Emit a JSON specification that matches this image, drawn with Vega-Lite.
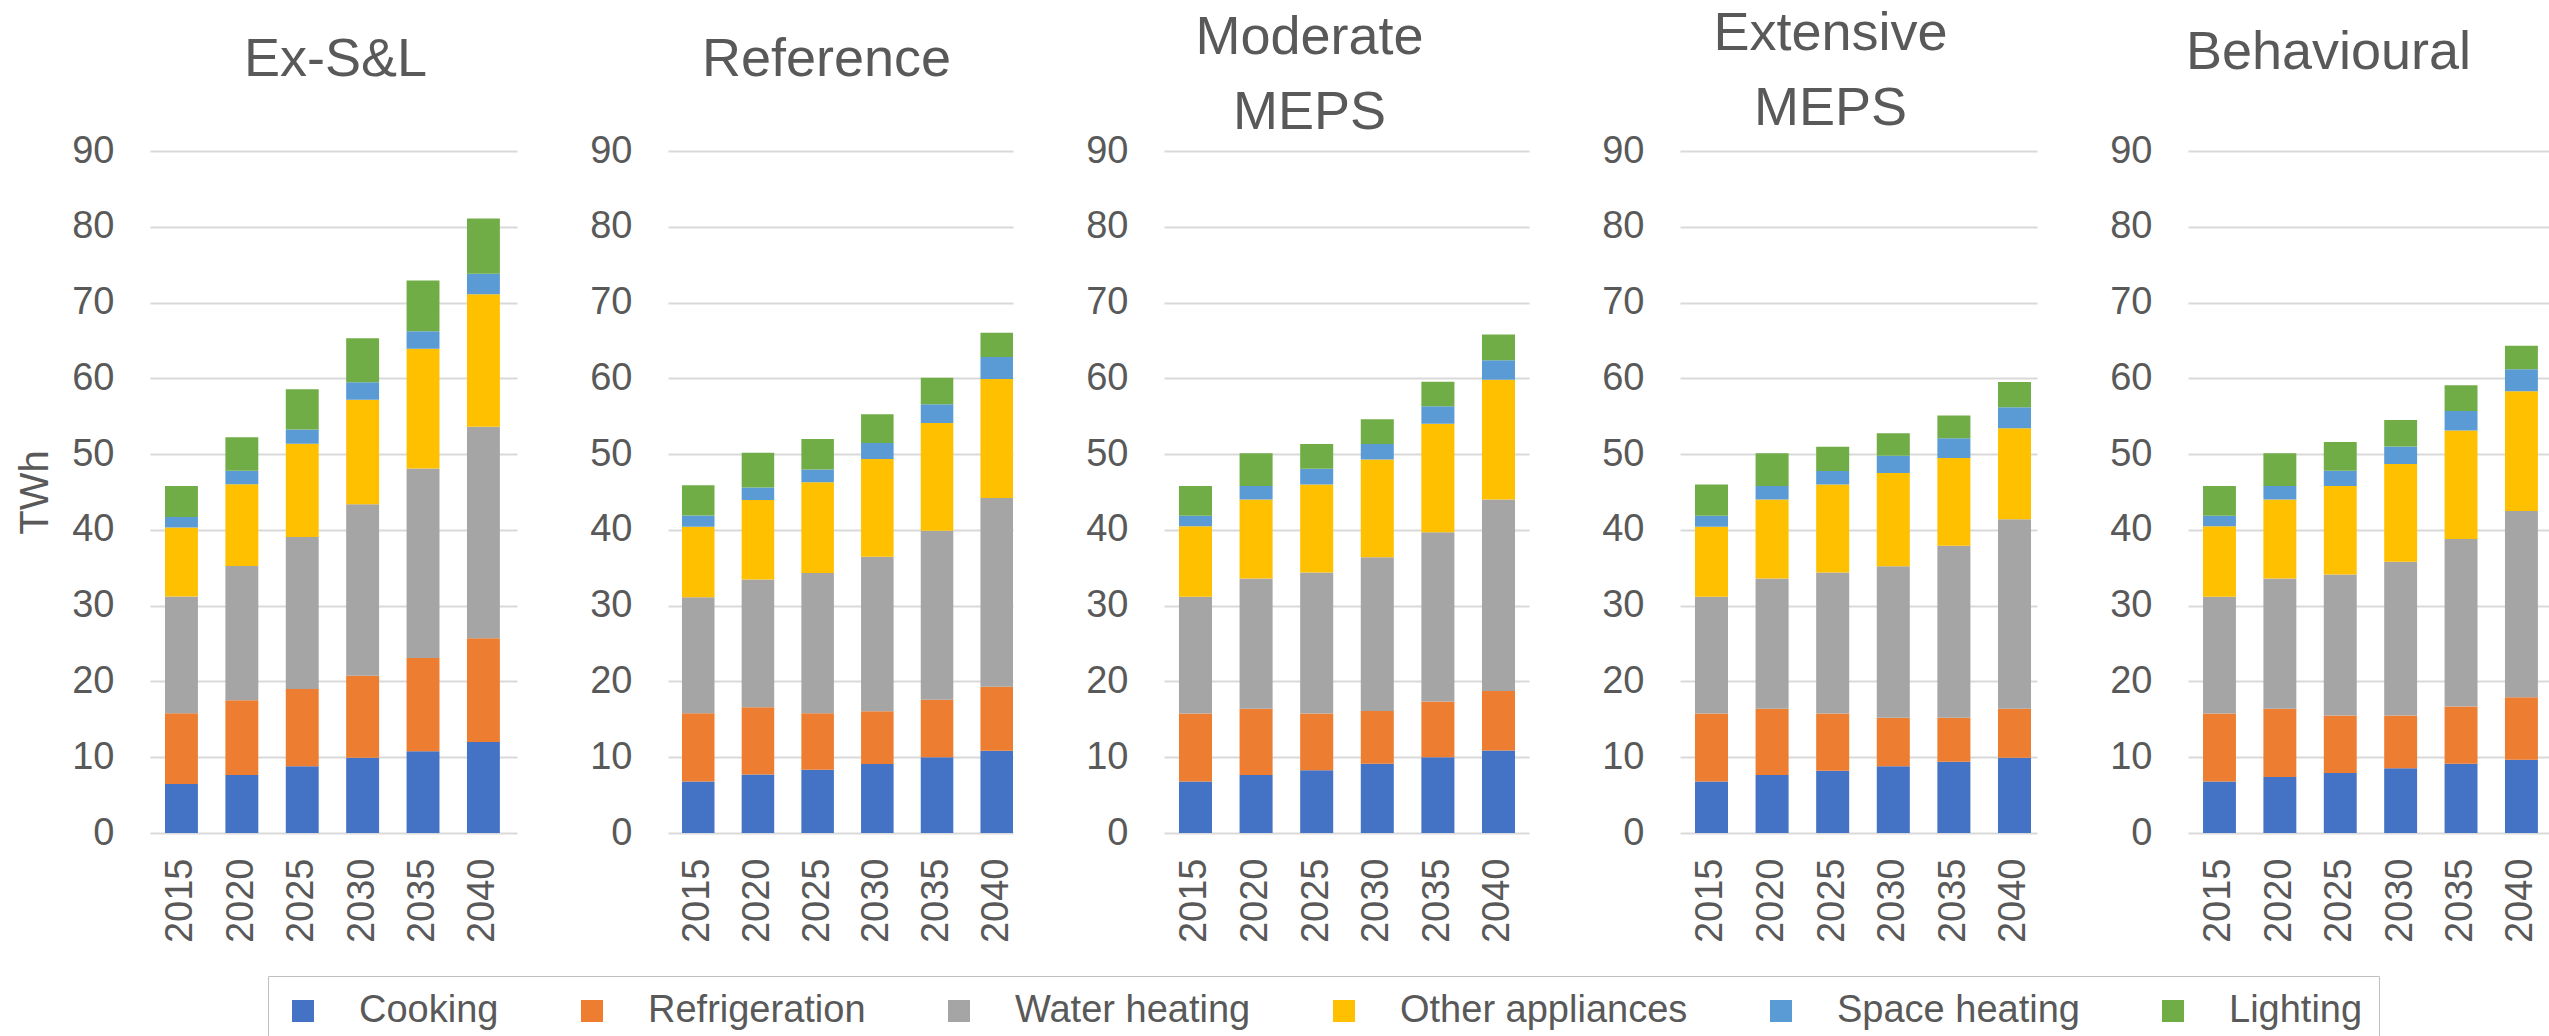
{
  "$schema": "https://vega.github.io/schema/vega-lite/v6.json",
  "background": "white",
  "padding": {"left": 15, "top": 7, "right": 0, "bottom": 0},
  "bounds": "flush",
  "spacing": 151,
  "data": {"values": [
    {"s":"Ex-S&L","year":"2015","use":"Cooking","twh":6.45},{"s":"Ex-S&L","year":"2015","use":"Refrigeration","twh":9.35},{"s":"Ex-S&L","year":"2015","use":"Water heating","twh":15.4},{"s":"Ex-S&L","year":"2015","use":"Other appliances","twh":9.1},{"s":"Ex-S&L","year":"2015","use":"Space heating","twh":1.4},{"s":"Ex-S&L","year":"2015","use":"Lighting","twh":4.1},
    {"s":"Ex-S&L","year":"2020","use":"Cooking","twh":7.67},{"s":"Ex-S&L","year":"2020","use":"Refrigeration","twh":9.85},{"s":"Ex-S&L","year":"2020","use":"Water heating","twh":17.7},{"s":"Ex-S&L","year":"2020","use":"Other appliances","twh":10.8},{"s":"Ex-S&L","year":"2020","use":"Space heating","twh":1.8},{"s":"Ex-S&L","year":"2020","use":"Lighting","twh":4.4},
    {"s":"Ex-S&L","year":"2025","use":"Cooking","twh":8.8},{"s":"Ex-S&L","year":"2025","use":"Refrigeration","twh":10.2},{"s":"Ex-S&L","year":"2025","use":"Water heating","twh":20.06},{"s":"Ex-S&L","year":"2025","use":"Other appliances","twh":12.3},{"s":"Ex-S&L","year":"2025","use":"Space heating","twh":1.9},{"s":"Ex-S&L","year":"2025","use":"Lighting","twh":5.3},
    {"s":"Ex-S&L","year":"2030","use":"Cooking","twh":9.94},{"s":"Ex-S&L","year":"2030","use":"Refrigeration","twh":10.8},{"s":"Ex-S&L","year":"2030","use":"Water heating","twh":22.65},{"s":"Ex-S&L","year":"2030","use":"Other appliances","twh":13.8},{"s":"Ex-S&L","year":"2030","use":"Space heating","twh":2.3},{"s":"Ex-S&L","year":"2030","use":"Lighting","twh":5.8},
    {"s":"Ex-S&L","year":"2035","use":"Cooking","twh":10.8},{"s":"Ex-S&L","year":"2035","use":"Refrigeration","twh":12.3},{"s":"Ex-S&L","year":"2035","use":"Water heating","twh":25.0},{"s":"Ex-S&L","year":"2035","use":"Other appliances","twh":15.8},{"s":"Ex-S&L","year":"2035","use":"Space heating","twh":2.3},{"s":"Ex-S&L","year":"2035","use":"Lighting","twh":6.7},
    {"s":"Ex-S&L","year":"2040","use":"Cooking","twh":12.0},{"s":"Ex-S&L","year":"2040","use":"Refrigeration","twh":13.7},{"s":"Ex-S&L","year":"2040","use":"Water heating","twh":27.9},{"s":"Ex-S&L","year":"2040","use":"Other appliances","twh":17.5},{"s":"Ex-S&L","year":"2040","use":"Space heating","twh":2.7},{"s":"Ex-S&L","year":"2040","use":"Lighting","twh":7.3},
    {"s":"Reference","year":"2015","use":"Cooking","twh":6.78},{"s":"Reference","year":"2015","use":"Refrigeration","twh":9.02},{"s":"Reference","year":"2015","use":"Water heating","twh":15.3},{"s":"Reference","year":"2015","use":"Other appliances","twh":9.3},{"s":"Reference","year":"2015","use":"Space heating","twh":1.5},{"s":"Reference","year":"2015","use":"Lighting","twh":4.0},
    {"s":"Reference","year":"2020","use":"Cooking","twh":7.73},{"s":"Reference","year":"2020","use":"Refrigeration","twh":8.87},{"s":"Reference","year":"2020","use":"Water heating","twh":16.85},{"s":"Reference","year":"2020","use":"Other appliances","twh":10.5},{"s":"Reference","year":"2020","use":"Space heating","twh":1.64},{"s":"Reference","year":"2020","use":"Lighting","twh":4.6},
    {"s":"Reference","year":"2025","use":"Cooking","twh":8.34},{"s":"Reference","year":"2025","use":"Refrigeration","twh":7.46},{"s":"Reference","year":"2025","use":"Water heating","twh":18.5},{"s":"Reference","year":"2025","use":"Other appliances","twh":12.0},{"s":"Reference","year":"2025","use":"Space heating","twh":1.66},{"s":"Reference","year":"2025","use":"Lighting","twh":4.04},
    {"s":"Reference","year":"2030","use":"Cooking","twh":9.12},{"s":"Reference","year":"2030","use":"Refrigeration","twh":6.95},{"s":"Reference","year":"2030","use":"Water heating","twh":20.4},{"s":"Reference","year":"2030","use":"Other appliances","twh":12.9},{"s":"Reference","year":"2030","use":"Space heating","twh":2.1},{"s":"Reference","year":"2030","use":"Lighting","twh":3.8},
    {"s":"Reference","year":"2035","use":"Cooking","twh":9.99},{"s":"Reference","year":"2035","use":"Refrigeration","twh":7.6},{"s":"Reference","year":"2035","use":"Water heating","twh":22.3},{"s":"Reference","year":"2035","use":"Other appliances","twh":14.2},{"s":"Reference","year":"2035","use":"Space heating","twh":2.5},{"s":"Reference","year":"2035","use":"Lighting","twh":3.5},
    {"s":"Reference","year":"2040","use":"Cooking","twh":10.86},{"s":"Reference","year":"2040","use":"Refrigeration","twh":8.44},{"s":"Reference","year":"2040","use":"Water heating","twh":24.9},{"s":"Reference","year":"2040","use":"Other appliances","twh":15.7},{"s":"Reference","year":"2040","use":"Space heating","twh":2.9},{"s":"Reference","year":"2040","use":"Lighting","twh":3.2},
    {"s":"Moderate MEPS","year":"2015","use":"Cooking","twh":6.8},{"s":"Moderate MEPS","year":"2015","use":"Refrigeration","twh":8.98},{"s":"Moderate MEPS","year":"2015","use":"Water heating","twh":15.4},{"s":"Moderate MEPS","year":"2015","use":"Other appliances","twh":9.3},{"s":"Moderate MEPS","year":"2015","use":"Space heating","twh":1.4},{"s":"Moderate MEPS","year":"2015","use":"Lighting","twh":3.9},
    {"s":"Moderate MEPS","year":"2020","use":"Cooking","twh":7.67},{"s":"Moderate MEPS","year":"2020","use":"Refrigeration","twh":8.73},{"s":"Moderate MEPS","year":"2020","use":"Water heating","twh":17.2},{"s":"Moderate MEPS","year":"2020","use":"Other appliances","twh":10.4},{"s":"Moderate MEPS","year":"2020","use":"Space heating","twh":1.8},{"s":"Moderate MEPS","year":"2020","use":"Lighting","twh":4.3},
    {"s":"Moderate MEPS","year":"2025","use":"Cooking","twh":8.28},{"s":"Moderate MEPS","year":"2025","use":"Refrigeration","twh":7.5},{"s":"Moderate MEPS","year":"2025","use":"Water heating","twh":18.6},{"s":"Moderate MEPS","year":"2025","use":"Other appliances","twh":11.6},{"s":"Moderate MEPS","year":"2025","use":"Space heating","twh":2.1},{"s":"Moderate MEPS","year":"2025","use":"Lighting","twh":3.25},
    {"s":"Moderate MEPS","year":"2030","use":"Cooking","twh":9.15},{"s":"Moderate MEPS","year":"2030","use":"Refrigeration","twh":6.95},{"s":"Moderate MEPS","year":"2030","use":"Water heating","twh":20.3},{"s":"Moderate MEPS","year":"2030","use":"Other appliances","twh":12.9},{"s":"Moderate MEPS","year":"2030","use":"Space heating","twh":2.05},{"s":"Moderate MEPS","year":"2030","use":"Lighting","twh":3.25},
    {"s":"Moderate MEPS","year":"2035","use":"Cooking","twh":10.0},{"s":"Moderate MEPS","year":"2035","use":"Refrigeration","twh":7.35},{"s":"Moderate MEPS","year":"2035","use":"Water heating","twh":22.35},{"s":"Moderate MEPS","year":"2035","use":"Other appliances","twh":14.3},{"s":"Moderate MEPS","year":"2035","use":"Space heating","twh":2.3},{"s":"Moderate MEPS","year":"2035","use":"Lighting","twh":3.25},
    {"s":"Moderate MEPS","year":"2040","use":"Cooking","twh":10.9},{"s":"Moderate MEPS","year":"2040","use":"Refrigeration","twh":7.85},{"s":"Moderate MEPS","year":"2040","use":"Water heating","twh":25.25},{"s":"Moderate MEPS","year":"2040","use":"Other appliances","twh":15.8},{"s":"Moderate MEPS","year":"2040","use":"Space heating","twh":2.6},{"s":"Moderate MEPS","year":"2040","use":"Lighting","twh":3.4},
    {"s":"Extensive MEPS","year":"2015","use":"Cooking","twh":6.8},{"s":"Extensive MEPS","year":"2015","use":"Refrigeration","twh":8.98},{"s":"Extensive MEPS","year":"2015","use":"Water heating","twh":15.4},{"s":"Extensive MEPS","year":"2015","use":"Other appliances","twh":9.25},{"s":"Extensive MEPS","year":"2015","use":"Space heating","twh":1.45},{"s":"Extensive MEPS","year":"2015","use":"Lighting","twh":4.1},
    {"s":"Extensive MEPS","year":"2020","use":"Cooking","twh":7.67},{"s":"Extensive MEPS","year":"2020","use":"Refrigeration","twh":8.73},{"s":"Extensive MEPS","year":"2020","use":"Water heating","twh":17.2},{"s":"Extensive MEPS","year":"2020","use":"Other appliances","twh":10.4},{"s":"Extensive MEPS","year":"2020","use":"Space heating","twh":1.8},{"s":"Extensive MEPS","year":"2020","use":"Lighting","twh":4.3},
    {"s":"Extensive MEPS","year":"2025","use":"Cooking","twh":8.2},{"s":"Extensive MEPS","year":"2025","use":"Refrigeration","twh":7.58},{"s":"Extensive MEPS","year":"2025","use":"Water heating","twh":18.6},{"s":"Extensive MEPS","year":"2025","use":"Other appliances","twh":11.6},{"s":"Extensive MEPS","year":"2025","use":"Space heating","twh":1.8},{"s":"Extensive MEPS","year":"2025","use":"Lighting","twh":3.2},
    {"s":"Extensive MEPS","year":"2030","use":"Cooking","twh":8.8},{"s":"Extensive MEPS","year":"2030","use":"Refrigeration","twh":6.4},{"s":"Extensive MEPS","year":"2030","use":"Water heating","twh":20.0},{"s":"Extensive MEPS","year":"2030","use":"Other appliances","twh":12.3},{"s":"Extensive MEPS","year":"2030","use":"Space heating","twh":2.3},{"s":"Extensive MEPS","year":"2030","use":"Lighting","twh":2.95},
    {"s":"Extensive MEPS","year":"2035","use":"Cooking","twh":9.4},{"s":"Extensive MEPS","year":"2035","use":"Refrigeration","twh":5.8},{"s":"Extensive MEPS","year":"2035","use":"Water heating","twh":22.7},{"s":"Extensive MEPS","year":"2035","use":"Other appliances","twh":11.6},{"s":"Extensive MEPS","year":"2035","use":"Space heating","twh":2.6},{"s":"Extensive MEPS","year":"2035","use":"Lighting","twh":3.0},
    {"s":"Extensive MEPS","year":"2040","use":"Cooking","twh":9.94},{"s":"Extensive MEPS","year":"2040","use":"Refrigeration","twh":6.46},{"s":"Extensive MEPS","year":"2040","use":"Water heating","twh":25.0},{"s":"Extensive MEPS","year":"2040","use":"Other appliances","twh":12.0},{"s":"Extensive MEPS","year":"2040","use":"Space heating","twh":2.8},{"s":"Extensive MEPS","year":"2040","use":"Lighting","twh":3.3},
    {"s":"Behavioural","year":"2015","use":"Cooking","twh":6.8},{"s":"Behavioural","year":"2015","use":"Refrigeration","twh":8.98},{"s":"Behavioural","year":"2015","use":"Water heating","twh":15.4},{"s":"Behavioural","year":"2015","use":"Other appliances","twh":9.3},{"s":"Behavioural","year":"2015","use":"Space heating","twh":1.4},{"s":"Behavioural","year":"2015","use":"Lighting","twh":3.9},
    {"s":"Behavioural","year":"2020","use":"Cooking","twh":7.4},{"s":"Behavioural","year":"2020","use":"Refrigeration","twh":9.0},{"s":"Behavioural","year":"2020","use":"Water heating","twh":17.2},{"s":"Behavioural","year":"2020","use":"Other appliances","twh":10.4},{"s":"Behavioural","year":"2020","use":"Space heating","twh":1.8},{"s":"Behavioural","year":"2020","use":"Lighting","twh":4.3},
    {"s":"Behavioural","year":"2025","use":"Cooking","twh":7.93},{"s":"Behavioural","year":"2025","use":"Refrigeration","twh":7.57},{"s":"Behavioural","year":"2025","use":"Water heating","twh":18.6},{"s":"Behavioural","year":"2025","use":"Other appliances","twh":11.7},{"s":"Behavioural","year":"2025","use":"Space heating","twh":2.0},{"s":"Behavioural","year":"2025","use":"Lighting","twh":3.8},
    {"s":"Behavioural","year":"2030","use":"Cooking","twh":8.54},{"s":"Behavioural","year":"2030","use":"Refrigeration","twh":6.96},{"s":"Behavioural","year":"2030","use":"Water heating","twh":20.3},{"s":"Behavioural","year":"2030","use":"Other appliances","twh":12.9},{"s":"Behavioural","year":"2030","use":"Space heating","twh":2.3},{"s":"Behavioural","year":"2030","use":"Lighting","twh":3.5},
    {"s":"Behavioural","year":"2035","use":"Cooking","twh":9.15},{"s":"Behavioural","year":"2035","use":"Refrigeration","twh":7.55},{"s":"Behavioural","year":"2035","use":"Water heating","twh":22.1},{"s":"Behavioural","year":"2035","use":"Other appliances","twh":14.3},{"s":"Behavioural","year":"2035","use":"Space heating","twh":2.6},{"s":"Behavioural","year":"2035","use":"Lighting","twh":3.4},
    {"s":"Behavioural","year":"2040","use":"Cooking","twh":9.68},{"s":"Behavioural","year":"2040","use":"Refrigeration","twh":8.22},{"s":"Behavioural","year":"2040","use":"Water heating","twh":24.6},{"s":"Behavioural","year":"2040","use":"Other appliances","twh":15.8},{"s":"Behavioural","year":"2040","use":"Space heating","twh":2.9},{"s":"Behavioural","year":"2040","use":"Lighting","twh":3.1}
  ]},
  "hconcat": [
    {
      "width": 367, "height": 682,
      "title": {"text": "Ex-S&L", "dx": 2, "offset": 45},
      "transform": [{"filter": "datum.s === 'Ex-S&L'"}, {"calculate": "indexof(['Cooking','Refrigeration','Water heating','Other appliances','Space heating','Lighting'], datum.use)", "as": "k"}],
      "mark": {"type": "bar"},
      "encoding": {
        "x": {"field": "year", "type": "ordinal", "title": null, "scale": {"paddingInner": 0.455, "paddingOuter": 0.266, "align": 0.467}},
        "y": {"field": "twh", "type": "quantitative", "stack": "zero", "title": "TWh", "scale": {"domain": [0, 90], "nice": false}, "axis": {"values": [0,10,20,30,40,50,60,70,80,90]}},
        "order": {"field": "k", "type": "quantitative", "sort": "ascending"},
        "color": {"field": "use", "type": "nominal", "sort": ["Cooking","Refrigeration","Water heating","Other appliances","Space heating","Lighting"],
          "scale": {"domain": ["Cooking","Refrigeration","Water heating","Other appliances","Space heating","Lighting"], "range": ["#4472C4","#ED7D31","#A5A5A5","#FFC000","#5B9BD5","#70AD47"]},
          "legend": {"orient": "none", "legendX": 118, "legendY": 825, "direction": "horizontal", "title": null}}
      }
    },
    {
      "width": 345, "height": 682,
      "title": {"text": "Reference", "dx": -14, "offset": 45},
      "transform": [{"filter": "datum.s === 'Reference'"}, {"calculate": "indexof(['Cooking','Refrigeration','Water heating','Other appliances','Space heating','Lighting'], datum.use)", "as": "k"}],
      "mark": {"type": "bar"},
      "encoding": {
        "x": {"field": "year", "type": "ordinal", "title": null, "scale": {"paddingInner": 0.455, "paddingOuter": 0.117, "align": 1}},
        "y": {"field": "twh", "type": "quantitative", "stack": "zero", "title": null, "scale": {"domain": [0, 90], "nice": false}, "axis": {"values": [0,10,20,30,40,50,60,70,80,90]}},
        "order": {"field": "k", "type": "quantitative", "sort": "ascending"},
        "color": {"field": "use", "type": "nominal", "sort": ["Cooking","Refrigeration","Water heating","Other appliances","Space heating","Lighting"],
          "scale": {"domain": ["Cooking","Refrigeration","Water heating","Other appliances","Space heating","Lighting"], "range": ["#4472C4","#ED7D31","#A5A5A5","#FFC000","#5B9BD5","#70AD47"]},
          "legend": {"orient": "none", "legendX": 118, "legendY": 825, "direction": "horizontal", "title": null}}
      }
    },
    {
      "width": 365, "height": 682,
      "title": {"text": ["Moderate", "MEPS"], "dx": -37, "offset": -8},
      "transform": [{"filter": "datum.s === 'Moderate MEPS'"}, {"calculate": "indexof(['Cooking','Refrigeration','Water heating','Other appliances','Space heating','Lighting'], datum.use)", "as": "k"}],
      "mark": {"type": "bar"},
      "encoding": {
        "x": {"field": "year", "type": "ordinal", "title": null, "scale": {"paddingInner": 0.455, "paddingOuter": 0.239, "align": 0.517}},
        "y": {"field": "twh", "type": "quantitative", "stack": "zero", "title": null, "scale": {"domain": [0, 90], "nice": false}, "axis": {"values": [0,10,20,30,40,50,60,70,80,90]}},
        "order": {"field": "k", "type": "quantitative", "sort": "ascending"},
        "color": {"field": "use", "type": "nominal", "sort": ["Cooking","Refrigeration","Water heating","Other appliances","Space heating","Lighting"],
          "scale": {"domain": ["Cooking","Refrigeration","Water heating","Other appliances","Space heating","Lighting"], "range": ["#4472C4","#ED7D31","#A5A5A5","#FFC000","#5B9BD5","#70AD47"]},
          "legend": {"orient": "none", "legendX": 118, "legendY": 825, "direction": "horizontal", "title": null}}
      }
    },
    {
      "width": 357, "height": 682,
      "title": {"text": ["Extensive", "MEPS"], "dx": -28, "offset": -4},
      "transform": [{"filter": "datum.s === 'Extensive MEPS'"}, {"calculate": "indexof(['Cooking','Refrigeration','Water heating','Other appliances','Space heating','Lighting'], datum.use)", "as": "k"}],
      "mark": {"type": "bar"},
      "encoding": {
        "x": {"field": "year", "type": "ordinal", "title": null, "scale": {"paddingInner": 0.455, "paddingOuter": 0.173, "align": 0.714}},
        "y": {"field": "twh", "type": "quantitative", "stack": "zero", "title": null, "scale": {"domain": [0, 90], "nice": false}, "axis": {"values": [0,10,20,30,40,50,60,70,80,90]}},
        "order": {"field": "k", "type": "quantitative", "sort": "ascending"},
        "color": {"field": "use", "type": "nominal", "sort": ["Cooking","Refrigeration","Water heating","Other appliances","Space heating","Lighting"],
          "scale": {"domain": ["Cooking","Refrigeration","Water heating","Other appliances","Space heating","Lighting"], "range": ["#4472C4","#ED7D31","#A5A5A5","#FFC000","#5B9BD5","#70AD47"]},
          "legend": {"orient": "none", "legendX": 118, "legendY": 825, "direction": "horizontal", "title": null}}
      }
    },
    {
      "width": 363, "height": 682,
      "title": {"text": "Behavioural", "dx": -41, "offset": 52},
      "transform": [{"filter": "datum.s === 'Behavioural'"}, {"calculate": "indexof(['Cooking','Refrigeration','Water heating','Other appliances','Space heating','Lighting'], datum.use)", "as": "k"}],
      "mark": {"type": "bar"},
      "encoding": {
        "x": {"field": "year", "type": "ordinal", "title": null, "scale": {"paddingInner": 0.455, "paddingOuter": 0.233, "align": 0.534}},
        "y": {"field": "twh", "type": "quantitative", "stack": "zero", "title": null, "scale": {"domain": [0, 90], "nice": false}, "axis": {"values": [0,10,20,30,40,50,60,70,80,90]}},
        "order": {"field": "k", "type": "quantitative", "sort": "ascending"},
        "color": {"field": "use", "type": "nominal", "sort": ["Cooking","Refrigeration","Water heating","Other appliances","Space heating","Lighting"],
          "scale": {"domain": ["Cooking","Refrigeration","Water heating","Other appliances","Space heating","Lighting"], "range": ["#4472C4","#ED7D31","#A5A5A5","#FFC000","#5B9BD5","#70AD47"]},
          "legend": {"orient": "none", "legendX": 118, "legendY": 825, "direction": "horizontal", "title": null}}
      }
    }
  ],
  "config": {
    "font": "Liberation Sans",
    "view": {"stroke": null},
    "axis": {"labelColor": "#595959", "titleColor": "#595959", "labelFont": "Liberation Sans", "titleFont": "Liberation Sans", "domain": false, "ticks": false, "tickSize": 0, "gridColor": "#D9D9D9", "gridWidth": 2},
    "axisX": {"labelAngle": -90, "labelFontSize": 38, "labelPadding": 25, "grid": false},
    "axisY": {"labelFontSize": 38, "labelPadding": 36, "titleFontSize": 40, "titleFontWeight": "normal", "titlePadding": 16, "grid": true},
    "title": {"fontSize": 54, "fontWeight": "normal", "color": "#595959", "font": "Liberation Sans", "anchor": "middle", "frame": "group", "baseline": "bottom", "lineHeight": 75},
    "legend": {"symbolType": "square", "symbolSize": 484, "symbolStrokeWidth": 0, "labelFontSize": 38, "labelLimit": 600, "labelColor": "#595959", "labelFont": "Liberation Sans", "labelOffset": 37, "columnPadding": 74, "padding": 16, "strokeColor": "#BFBFBF", "fillColor": "white"}
  }
}
